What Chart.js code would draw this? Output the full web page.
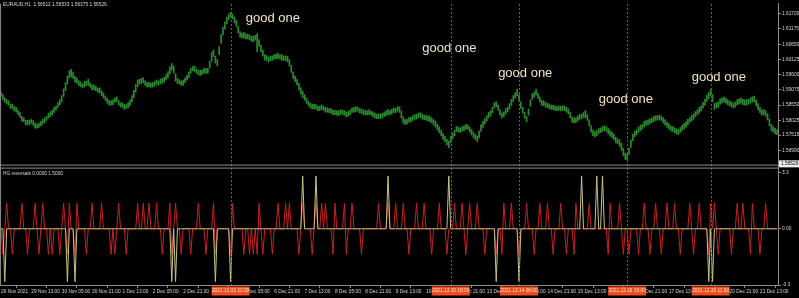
<!DOCTYPE html>
<html>
<head>
<meta charset="utf-8">
<title>EURAUD,H1 with HG reversals</title>
<script src="https://cdn.jsdelivr.net/npm/chart.js@4.4.0/dist/chart.umd.min.js"></script>
<style>
  html, body { margin: 0; padding: 0; background: #000; }
  #wrap { width: 799px; height: 298px; position: relative; }
</style>
</head>
<body>
<div id="wrap"><canvas id="chart"></canvas></div>
<script>
// EURAUD H1 bars, one per hour (high / low)
const highs = [
  1.5899,1.5891,1.5880,1.5874,1.5870,1.5859,1.5858,1.5850,1.5847,1.5837,
  1.5829,1.5816,1.5811,1.5803,1.5803,1.5804,1.5805,1.5802,1.5793,1.5790,
  1.5793,1.5798,1.5806,1.5811,1.5816,1.5827,1.5832,1.5837,1.5847,1.5852,
  1.5863,1.5874,1.5888,1.5911,1.5933,1.5955,1.5973,1.5978,1.5969,1.5954,
  1.5948,1.5939,1.5935,1.5928,1.5937,1.5937,1.5945,1.5932,1.5924,1.5925,
  1.5920,1.5914,1.5915,1.5905,1.5897,1.5887,1.5879,1.5871,1.5871,1.5873,
  1.5879,1.5884,1.5871,1.5863,1.5863,1.5858,1.5857,1.5864,1.5873,1.5888,
  1.5906,1.5926,1.5941,1.5944,1.5947,1.5949,1.5939,1.5933,1.5934,1.5931,
  1.5933,1.5936,1.5941,1.5938,1.5945,1.5947,1.5951,1.5960,1.5971,1.5987,
  1.5998,1.5990,1.5964,1.5948,1.5943,1.5939,1.5941,1.5949,1.5958,1.5970,
  1.5982,1.5988,1.5990,1.5980,1.5974,1.5975,1.5976,1.5983,1.5981,1.5982,
  1.6007,1.6036,1.6046,1.6024,1.6012,1.6057,1.6098,1.6123,1.6141,1.6158,
  1.6169,1.6175,1.6170,1.6159,1.6148,1.6127,1.6108,1.6103,1.6105,1.6101,
  1.6100,1.6097,1.6092,1.6092,1.6096,1.6102,1.6080,1.6061,1.6045,1.6029,
  1.6026,1.6021,1.6024,1.6025,1.6029,1.6031,1.6034,1.6028,1.6029,1.6024,
  1.6025,1.6023,1.6012,1.5992,1.5969,1.5955,1.5943,1.5930,1.5915,1.5903,
  1.5891,1.5880,1.5869,1.5861,1.5859,1.5858,1.5857,1.5851,1.5852,1.5856,
  1.5852,1.5847,1.5846,1.5843,1.5843,1.5838,1.5837,1.5836,1.5835,1.5840,
  1.5837,1.5836,1.5831,1.5833,1.5839,1.5845,1.5847,1.5849,1.5848,1.5844,
  1.5841,1.5839,1.5837,1.5835,1.5840,1.5834,1.5832,1.5828,1.5823,1.5825,
  1.5824,1.5827,1.5832,1.5835,1.5840,1.5837,1.5841,1.5846,1.5844,1.5850,
  1.5849,1.5835,1.5815,1.5805,1.5807,1.5812,1.5813,1.5818,1.5822,1.5824,
  1.5828,1.5829,1.5823,1.5821,1.5819,1.5818,1.5816,1.5811,1.5805,1.5799,
  1.5789,1.5780,1.5769,1.5757,1.5748,1.5737,1.5731,1.5747,1.5758,1.5768,
  1.5781,1.5780,1.5776,1.5781,1.5784,1.5789,1.5787,1.5779,1.5771,1.5762,
  1.5754,1.5748,1.5766,1.5788,1.5799,1.5809,1.5819,1.5830,1.5835,1.5847,
  1.5864,1.5866,1.5855,1.5839,1.5828,1.5832,1.5843,1.5848,1.5860,1.5875,
  1.5888,1.5898,1.5910,1.5891,1.5866,1.5847,1.5829,1.5816,1.5842,1.5873,
  1.5894,1.5900,1.5910,1.5896,1.5883,1.5872,1.5870,1.5865,1.5861,1.5859,
  1.5855,1.5854,1.5853,1.5850,1.5852,1.5851,1.5853,1.5852,1.5847,1.5842,
  1.5830,1.5815,1.5811,1.5812,1.5818,1.5822,1.5824,1.5829,1.5836,1.5822,
  1.5804,1.5784,1.5769,1.5764,1.5767,1.5774,1.5777,1.5781,1.5784,1.5781,
  1.5774,1.5767,1.5761,1.5755,1.5744,1.5739,1.5735,1.5723,1.5706,1.5690,
  1.5686,1.5708,1.5735,1.5754,1.5765,1.5771,1.5779,1.5785,1.5790,1.5799,
  1.5802,1.5804,1.5808,1.5810,1.5816,1.5818,1.5819,1.5821,1.5817,1.5812,
  1.5805,1.5797,1.5791,1.5784,1.5781,1.5777,1.5774,1.5772,1.5778,1.5786,
  1.5792,1.5798,1.5806,1.5812,1.5820,1.5825,1.5833,1.5839,1.5847,1.5853,
  1.5865,1.5876,1.5890,1.5898,1.5910,1.5891,1.5860,1.5863,1.5866,1.5877,
  1.5880,1.5884,1.5879,1.5873,1.5869,1.5866,1.5862,1.5866,1.5874,1.5876,
  1.5880,1.5875,1.5873,1.5874,1.5875,1.5880,1.5884,1.5886,1.5873,1.5860,
  1.5847,1.5839,1.5840,1.5836,1.5825,1.5807,1.5789,1.5781,1.5775,1.5771
];
const lows = [
  1.5885,1.5874,1.5865,1.5859,1.5855,1.5844,1.5843,1.5835,1.5831,1.5822,
  1.5813,1.5800,1.5797,1.5787,1.5787,1.5788,1.5792,1.5785,1.5776,1.5776,
  1.5778,1.5783,1.5789,1.5794,1.5802,1.5810,1.5815,1.5820,1.5830,1.5838,
  1.5847,1.5856,1.5866,1.5885,1.5906,1.5927,1.5949,1.5952,1.5947,1.5934,
  1.5931,1.5922,1.5919,1.5914,1.5918,1.5923,1.5923,1.5917,1.5908,1.5908,
  1.5905,1.5899,1.5897,1.5888,1.5880,1.5871,1.5862,1.5856,1.5855,1.5857,
  1.5864,1.5868,1.5855,1.5849,1.5847,1.5840,1.5844,1.5846,1.5854,1.5866,
  1.5881,1.5900,1.5919,1.5927,1.5930,1.5932,1.5923,1.5917,1.5919,1.5916,
  1.5918,1.5920,1.5926,1.5924,1.5928,1.5930,1.5934,1.5942,1.5950,1.5963,
  1.5976,1.5966,1.5938,1.5929,1.5928,1.5923,1.5924,1.5932,1.5941,1.5950,
  1.5965,1.5973,1.5971,1.5965,1.5960,1.5957,1.5961,1.5966,1.5964,1.5965,
  1.5983,1.6006,1.6022,1.6000,1.5990,1.6029,1.6068,1.6097,1.6117,1.6136,
  1.6150,1.6158,1.6152,1.6138,1.6126,1.6104,1.6089,1.6086,1.6087,1.6083,
  1.6083,1.6081,1.6075,1.6074,1.6079,1.6040,1.6058,1.6039,1.6024,1.6010,
  1.6009,1.6004,1.6007,1.6009,1.6014,1.6015,1.6016,1.6013,1.6010,1.6009,
  1.6008,1.6004,1.5990,1.5968,1.5947,1.5936,1.5925,1.5908,1.5893,1.5881,
  1.5872,1.5861,1.5853,1.5845,1.5843,1.5842,1.5841,1.5835,1.5837,1.5839,
  1.5837,1.5831,1.5831,1.5829,1.5826,1.5821,1.5822,1.5820,1.5819,1.5824,
  1.5822,1.5820,1.5814,1.5817,1.5822,1.5830,1.5831,1.5832,1.5834,1.5828,
  1.5826,1.5822,1.5821,1.5821,1.5822,1.5820,1.5815,1.5811,1.5808,1.5809,
  1.5808,1.5811,1.5816,1.5819,1.5823,1.5821,1.5825,1.5830,1.5829,1.5833,
  1.5830,1.5811,1.5793,1.5788,1.5790,1.5796,1.5797,1.5802,1.5806,1.5807,
  1.5812,1.5813,1.5807,1.5805,1.5803,1.5801,1.5798,1.5794,1.5786,1.5779,
  1.5769,1.5760,1.5749,1.5737,1.5728,1.5718,1.5709,1.5726,1.5739,1.5749,
  1.5764,1.5763,1.5761,1.5765,1.5767,1.5772,1.5771,1.5762,1.5752,1.5743,
  1.5736,1.5728,1.5742,1.5764,1.5778,1.5790,1.5800,1.5811,1.5817,1.5829,
  1.5845,1.5849,1.5837,1.5820,1.5811,1.5815,1.5824,1.5832,1.5841,1.5854,
  1.5868,1.5879,1.5888,1.5869,1.5844,1.5827,1.5810,1.5797,1.5820,1.5851,
  1.5875,1.5883,1.5890,1.5878,1.5865,1.5854,1.5853,1.5848,1.5846,1.5842,
  1.5840,1.5839,1.5837,1.5836,1.5838,1.5835,1.5837,1.5836,1.5831,1.5825,
  1.5811,1.5796,1.5794,1.5795,1.5801,1.5806,1.5808,1.5813,1.5811,1.5803,
  1.5783,1.5762,1.5750,1.5745,1.5750,1.5757,1.5760,1.5764,1.5767,1.5764,
  1.5756,1.5749,1.5743,1.5736,1.5725,1.5722,1.5713,1.5699,1.5682,1.5668,
  1.5666,1.5684,1.5709,1.5732,1.5746,1.5752,1.5761,1.5767,1.5772,1.5780,
  1.5785,1.5787,1.5792,1.5794,1.5798,1.5802,1.5803,1.5804,1.5802,1.5794,
  1.5787,1.5779,1.5773,1.5766,1.5764,1.5760,1.5756,1.5753,1.5761,1.5767,
  1.5773,1.5779,1.5787,1.5795,1.5801,1.5806,1.5815,1.5821,1.5828,1.5834,
  1.5845,1.5854,1.5868,1.5878,1.5888,1.5867,1.5840,1.5845,1.5847,1.5858,
  1.5863,1.5865,1.5862,1.5856,1.5852,1.5849,1.5845,1.5848,1.5856,1.5858,
  1.5862,1.5857,1.5856,1.5855,1.5858,1.5863,1.5865,1.5866,1.5852,1.5838,
  1.5828,1.5820,1.5822,1.5817,1.5803,1.5784,1.5767,1.5762,1.5756,1.5753
];

// HG reversals indicator: bars where each buffer leaves zero
const redUp = [3, 11, 18, 22, 33, 36, 40, 48, 53, 62, 72, 75, 78, 82, 89, 92, 104, 112, 122, 136,
  146, 150, 152, 159, 166, 169, 171, 176, 181, 185, 199, 204, 208, 212, 219, 223, 231, 239, 243,
  247, 251, 265, 269, 277, 284, 288, 295, 303, 310, 321, 326, 339, 345, 351, 355, 363, 368, 374,
  376, 388, 391, 396, 403];
const redDown = [1, 6, 14, 20, 25, 27, 31, 35, 39, 45, 58, 60, 66, 85, 90, 95, 100, 108, 113, 121,
  128, 131, 133, 135, 138, 143, 157, 164, 175, 182, 190, 215, 227, 235, 245, 255, 261, 264, 273,
  281, 291, 298, 302, 320, 328, 331, 336, 342, 348, 358, 365, 373, 378, 385, 395, 400];
const redLevel = 1.5;
const yellowUp = [159, 166, 204, 236, 306, 314, 317];
const yellowDown = [2, 35, 39, 90, 92, 113, 121, 261, 273, 373, 375];
const yellowLevel = 3.1;

// axes
const timeLabels = ['26 Nov 2021', '29 Nov 13:00', '30 Nov 05:00', '30 Nov 21:00', '1 Dec 13:00',
  '2 Dec 05:00', '2 Dec 21:00', '3 Dec 13:00', '6 Dec 05:00', '6 Dec 21:00', '7 Dec 13:00',
  '8 Dec 05:00', '8 Dec 21:00', '9 Dec 13:00', '10 Dec 05:00', '10 Dec 21:00', '13 Dec 13:00',
  '14 Dec 05:00', '14 Dec 21:00', '15 Dec 13:00', '16 Dec 05:00', '16 Dec 21:00', '17 Dec 13:00',
  '20 Dec 05:00', '20 Dec 21:00', '21 Dec 13:00'];
const barsPerLabel = 16;
const priceTicks = [1.61700, 1.61175, 1.60650, 1.60125, 1.59600, 1.59075, 1.58550, 1.58025, 1.57515, 1.56990];
const levelTicks = [3.3, 0, -3.3];
const levelLabels = ['3.3', '0.00', '-3.3'];
const lastPrice = 1.56526;
const header = 'EURAUD,H1  1.56512 1.56533 1.56375 1.56526';
const indicatorName = 'HG reversals 0.0000 1.5000';

// vertical lines and notes
const lineBars = [121, 237, 273, 330, 374];
const lineTimes = ['2021.12.03 22:00', '2021.12.10 18:00', '2021.12.14 06:00', '2021.12.16 15:00', '2021.12.20 11:00'];
const noteBars = [129, 222, 262, 315, 364];
const notePrices = [1.6153, 1.6051, 1.5966, 1.5874, 1.5952];
const noteText = 'good one';

const redVals = highs.map(() => 0);
redUp.forEach(i => { redVals[i] = redLevel; });
redDown.forEach(i => { redVals[i] = -redLevel; });
const yellowVals = highs.map(() => 0);
yellowUp.forEach(i => { yellowVals[i] = yellowLevel; });
yellowDown.forEach(i => { yellowVals[i] = -yellowLevel; });

const smallFont = { family: 'Liberation Sans', size: 4.8 };
const axisGray = '#8c8c8c';
const textGray = '#d8d8d8';

const mt4Overlay = {
    id: 'mt4Overlay',
    afterDatasetsDraw(chart) {
        const ctx = chart.ctx;
        const x = chart.scales.x;
        const y = chart.scales.y;
        const area = chart.chartArea;
        ctx.save();
        // dotted vertical lines
        ctx.strokeStyle = '#c8431a';
        ctx.lineWidth = 1;
        ctx.setLineDash([2, 2]);
        lineBars.forEach(b => {
            const px = Math.round(x.getPixelForValue(b)) + 0.5;
            ctx.beginPath();
            ctx.moveTo(px, area.top);
            ctx.lineTo(px, area.bottom);
            ctx.stroke();
        });
        ctx.setLineDash([]);
        // notes
        ctx.fillStyle = '#f2e2c8';
        ctx.font = '13px "Liberation Sans", Arial, sans-serif';
        ctx.textBaseline = 'middle';
        ctx.textAlign = 'left';
        noteBars.forEach((b, i) => {
            ctx.fillText(noteText, x.getPixelForValue(b), y.getPixelForValue(notePrices[i]));
        });
        // pane titles
        ctx.fillStyle = textGray;
        ctx.font = '4.8px "Liberation Sans", sans-serif';
        ctx.fillText(header, 3, 5);
        ctx.fillText(indicatorName, 3, chart.scales.yi.top + 6);
        ctx.restore();
    },
    afterDraw(chart) {
        const ctx = chart.ctx;
        const x = chart.scales.x;
        const y = chart.scales.y;
        const area = chart.chartArea;
        ctx.save();
        // pane separator
        ctx.strokeStyle = axisGray;
        ctx.lineWidth = 1;
        const sep = y.bottom;
        [sep - 2.5, sep + 0.5].forEach(py => {
            ctx.beginPath();
            ctx.moveTo(area.left, py);
            ctx.lineTo(area.right, py);
            ctx.stroke();
        });
        ctx.beginPath();
        ctx.moveTo(area.left + 0.5, area.top);
        ctx.lineTo(area.left + 0.5, area.bottom);
        ctx.stroke();
        // last price box
        const lp = y.getPixelForValue(lastPrice);
        ctx.fillStyle = '#ececec';
        ctx.fillRect(area.right + 1, lp - 3.5, 21, 7);
        ctx.fillStyle = '#000';
        ctx.font = '4.8px "Liberation Sans", sans-serif';
        ctx.textBaseline = 'middle';
        ctx.textAlign = 'left';
        ctx.fillText(lastPrice.toFixed(5), area.right + 3, lp);
        // time boxes of the vertical lines
        ctx.textAlign = 'center';
        lineBars.forEach((b, i) => {
            const px = x.getPixelForValue(b);
            ctx.fillStyle = '#f04c1c';
            ctx.fillRect(px - 19, area.bottom + 1.5, 38, 9);
            ctx.fillStyle = '#ffe6d6';
            ctx.fillText(lineTimes[i], px, area.bottom + 6);
        });
        ctx.restore();
    }
};

new Chart(document.getElementById('chart'), {
    type: 'bar',
    data: {
        labels: highs.map((h, i) => i),
        datasets: [{
            type: 'bar',
            label: 'EURAUD,H1',
            data: highs.map((h, i) => [lows[i], h]),
            yAxisID: 'y',
            backgroundColor: '#2a8c2e',
            barThickness: 1,
            order: 3
        }, {
            type: 'line',
            label: 'HG reversals red',
            data: redVals,
            yAxisID: 'yi',
            borderColor: '#c42222',
            borderWidth: 1,
            pointRadius: 0,
            tension: 0,
            order: 2
        }, {
            type: 'line',
            label: 'HG reversals yellow',
            data: yellowVals,
            yAxisID: 'yi',
            borderColor: '#c9c285',
            borderWidth: 1,
            pointRadius: 0,
            tension: 0,
            order: 1
        }]
    },
    options: {
        responsive: true,
        maintainAspectRatio: false,
        animation: false,
        events: [],
        layout: { padding: 0 },
        plugins: { legend: { display: false }, tooltip: { enabled: false } },
        scales: {
            x: {
                type: 'category',
                offset: true,
                grid: { drawOnChartArea: false, drawTicks: true, tickLength: 3, color: axisGray },
                border: { color: axisGray },
                ticks: {
                    autoSkip: false,
                    maxRotation: 0,
                    minRotation: 0,
                    align: 'start',
                    padding: 1,
                    color: textGray,
                    font: smallFont,
                    callback: (value) => value % barsPerLabel === 0 ? timeLabels[value / barsPerLabel] : ''
                },
                afterBuildTicks: (scale) => {
                    scale.ticks = scale.ticks.filter(t => t.value % barsPerLabel === 0);
                },
                afterFit: (scale) => { scale.height = 13; }
            },
            y: {
                type: 'linear',
                position: 'right',
                stack: 'panes',
                stackWeight: 166,
                weight: 1,
                min: 1.56396,
                max: 1.6204,
                grid: { drawOnChartArea: false, drawTicks: true, tickLength: 3, color: axisGray },
                border: { color: axisGray },
                ticks: { padding: 1, color: textGray, font: smallFont, callback: (v) => Number(v).toFixed(5) },
                afterBuildTicks: (scale) => { scale.ticks = priceTicks.map(v => ({ value: v })); },
                afterFit: (scale) => { scale.width = 21; }
            },
            yi: {
                type: 'linear',
                position: 'right',
                stack: 'panes',
                stackWeight: 119,
                weight: 2,
                min: -3.3,
                max: 3.59,
                grid: { drawOnChartArea: false, drawTicks: true, tickLength: 3, color: axisGray },
                border: { color: axisGray },
                ticks: { padding: 1, color: textGray, font: smallFont, callback: (v) => levelLabels[levelTicks.indexOf(v)] },
                afterBuildTicks: (scale) => { scale.ticks = levelTicks.map(v => ({ value: v })); },
                afterFit: (scale) => { scale.width = 21; }
            }
        }
    },
    plugins: [mt4Overlay]
});
</script>
</body>
</html>
